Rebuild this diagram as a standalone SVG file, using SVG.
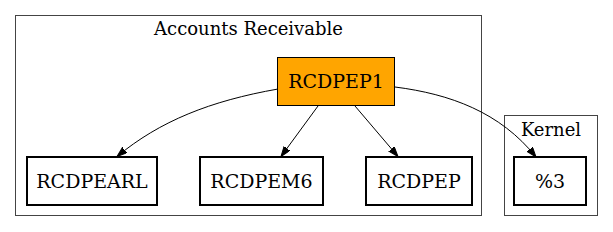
<svg xmlns="http://www.w3.org/2000/svg" width="613" height="232" viewBox="0 0 613 232">
<style>
.cluster{fill:none;stroke:#444;stroke-width:1}
.node{fill:#fff;stroke:#000;stroke-width:2}
.main{fill:#ffa500;stroke:#000;stroke-width:1}
text{font-family:"DejaVu Serif","Liberation Serif",serif;font-size:18px;text-anchor:middle;fill:#000}
.nl{font-size:19px}
.edge{fill:none;stroke:#000;stroke-width:1}
</style>
<defs>
<marker id="arr" markerUnits="userSpaceOnUse" markerWidth="10" markerHeight="8" refX="10" refY="3.5" orient="auto">
<path d="M0,0 L10,3.5 L0,7 z" fill="#000" stroke="#000" stroke-width="1"/>
</marker>
</defs>
<g id="cluster_ar">
<rect class="cluster" x="15.5" y="15.5" width="466" height="200"/>
<text x="248.5" y="35">Accounts Receivable</text>
</g>
<g id="cluster_kernel">
<rect class="cluster" x="504.5" y="115.5" width="93" height="100"/>
<text x="551" y="136">Kernel</text>
</g>
<g id="RCDPEP1">
<rect class="main" x="277.5" y="57.5" width="117" height="48"/>
<text class="nl" x="336" y="88">RCDPEP1</text>
</g>
<g id="RCDPEARL">
<rect class="node" x="27" y="157" width="130" height="48"/>
<text class="nl" x="92" y="188">RCDPEARL</text>
</g>
<g id="RCDPEM6">
<rect class="node" x="200" y="157" width="123" height="48"/>
<text class="nl" x="261.5" y="188">RCDPEM6</text>
</g>
<g id="RCDPEP">
<rect class="node" x="366" y="157" width="106" height="48"/>
<text class="nl" x="419" y="188">RCDPEP</text>
</g>
<g id="n3">
<rect class="node" x="514" y="157" width="72" height="48"/>
<text class="nl" x="550" y="188">%3</text>
</g>
<g id="connectors">
<path class="edge" marker-end="url(#arr)" d="M278,89 C210,101 160,121 117,156.5"/>
<path class="edge" marker-end="url(#arr)" d="M318,106 L281,156.5"/>
<path class="edge" marker-end="url(#arr)" d="M355,106 L398,156.5"/>
<path class="edge" marker-end="url(#arr)" d="M395,87 C450,94 500,112 536,157"/>
</g>
</svg>
